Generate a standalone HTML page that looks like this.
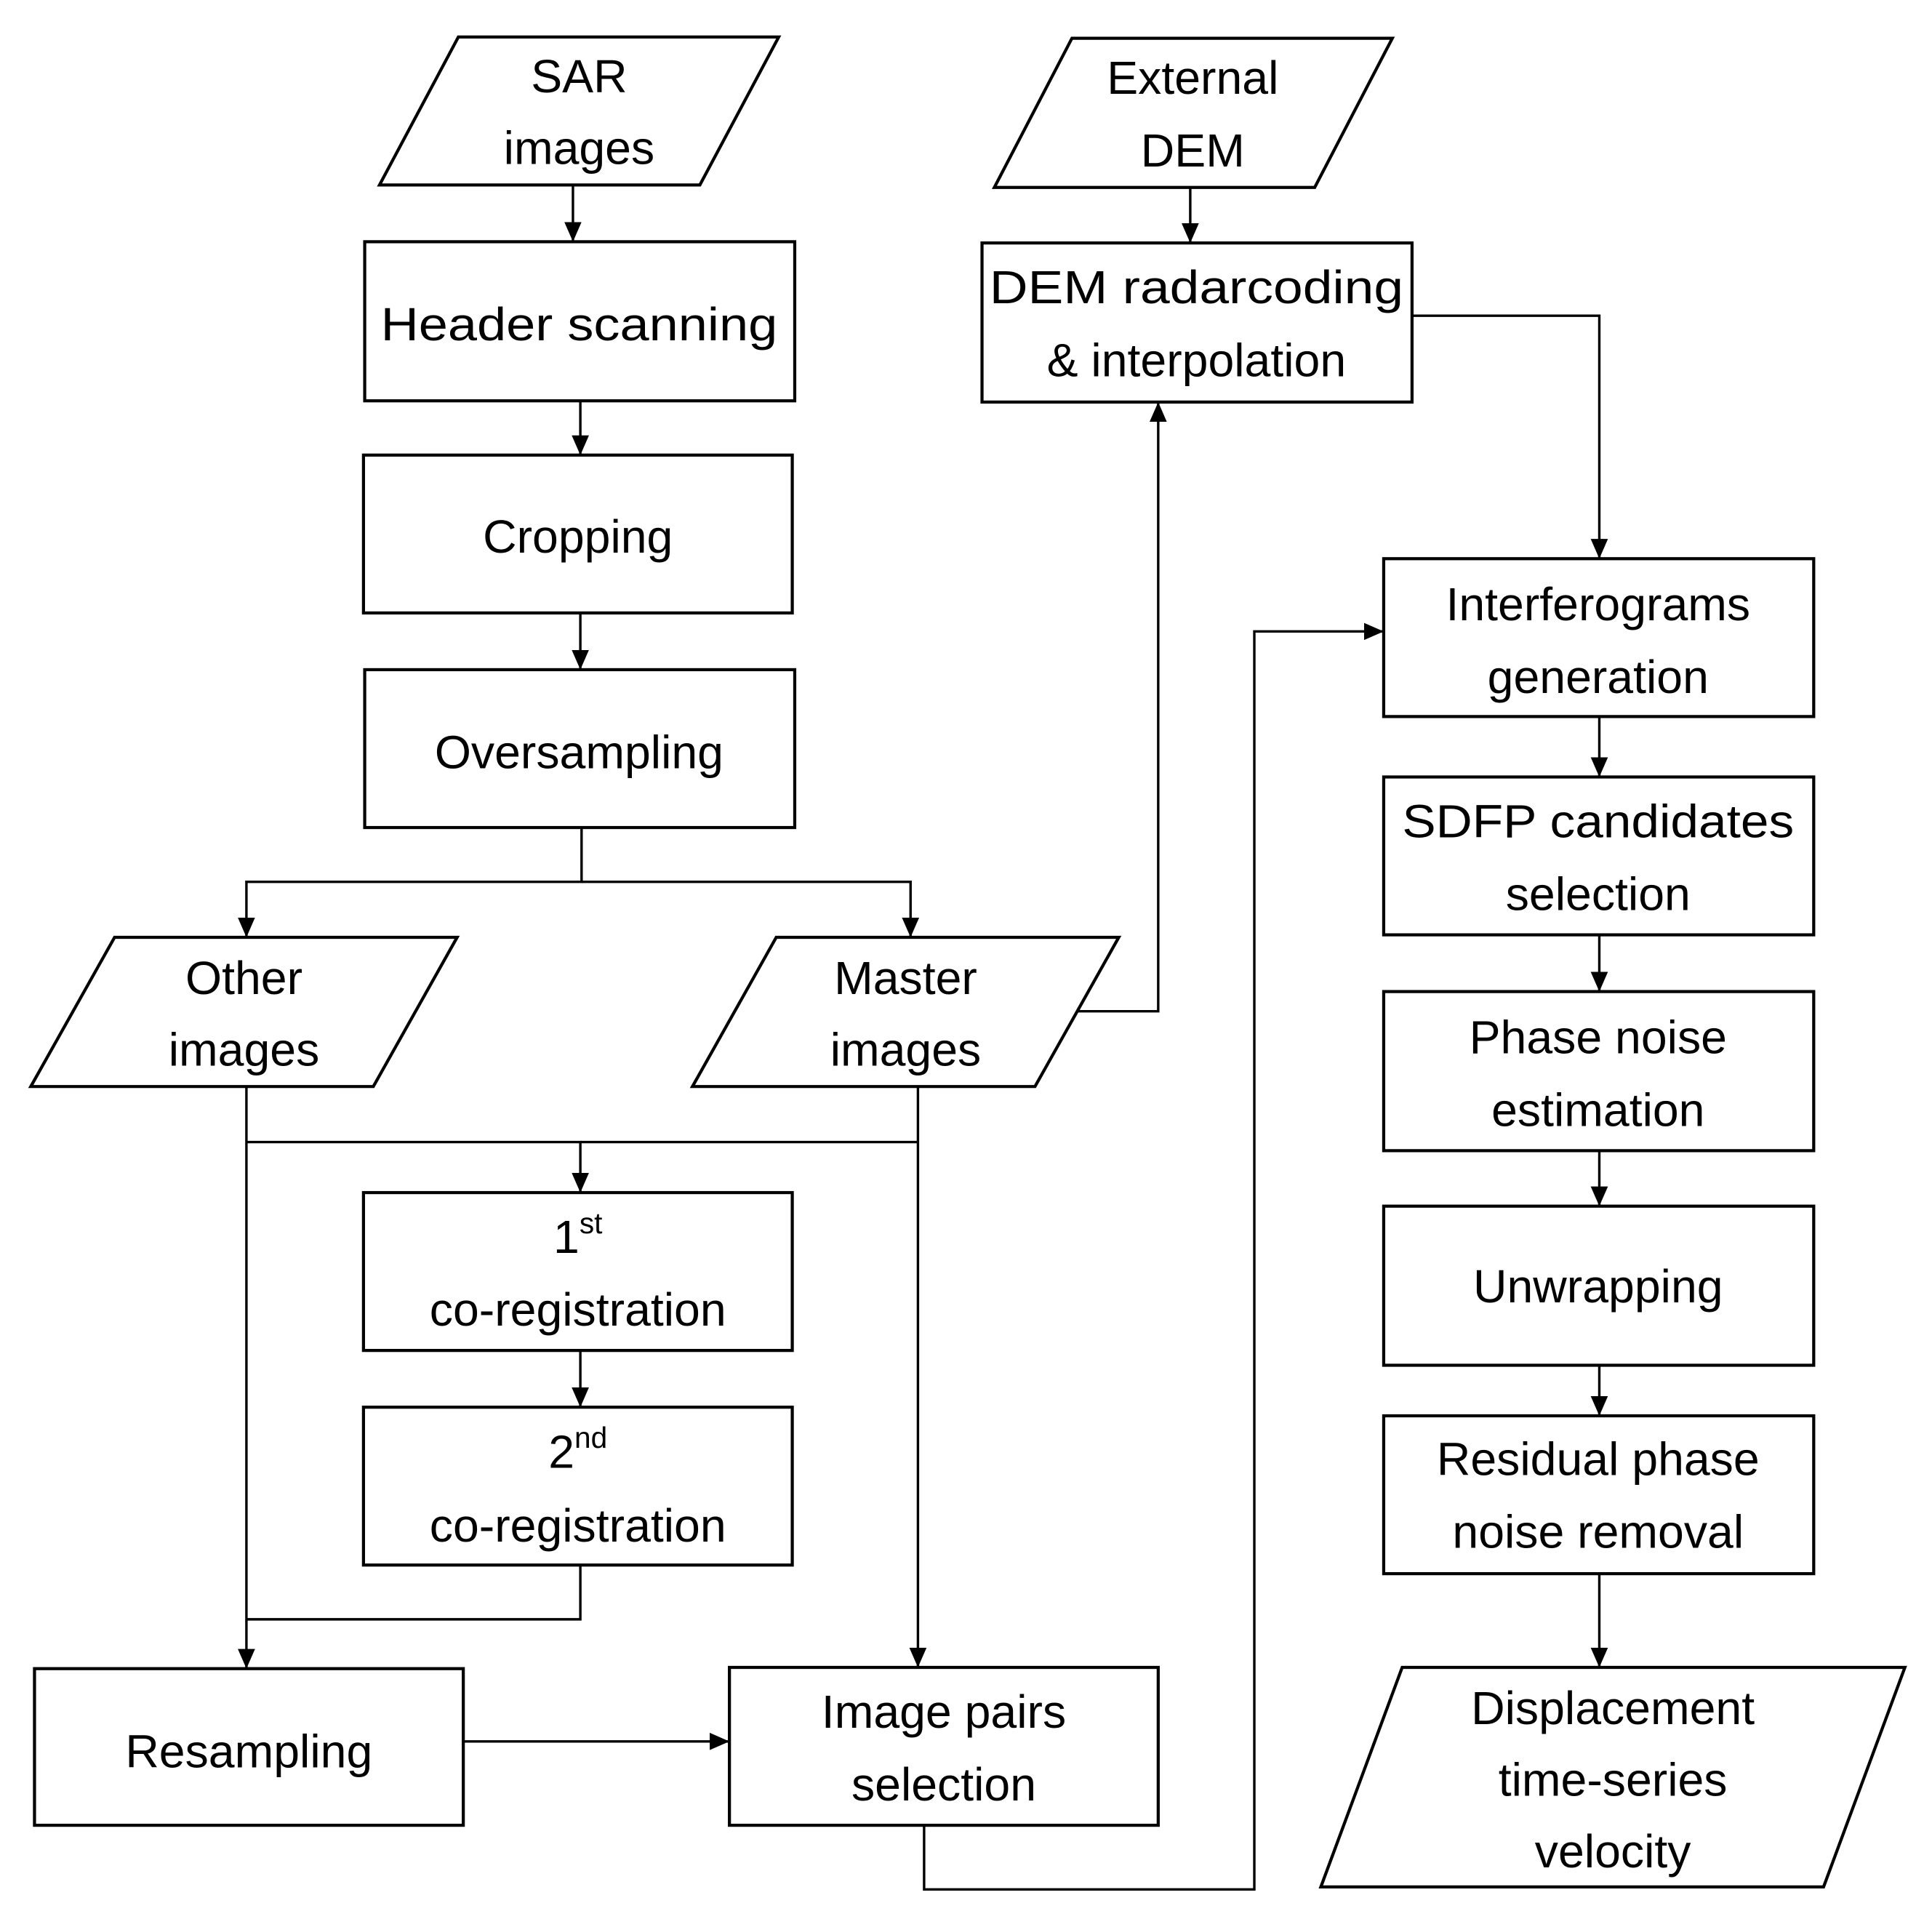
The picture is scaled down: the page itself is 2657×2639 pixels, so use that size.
<!DOCTYPE html>
<html><head><meta charset="utf-8"><style>html,body{margin:0;padding:0;background:#fff}svg{display:block}</style></head>
<body>
<svg xmlns="http://www.w3.org/2000/svg" width="2657" height="2639" viewBox="0 0 1568 1556" preserveAspectRatio="none">
<defs><marker id="a" markerWidth="16" markerHeight="14" refX="15" refY="7" orient="auto" markerUnits="userSpaceOnUse"><path d="M0,0 L16,7 L0,14 z" fill="#000"/></marker></defs>
<g fill="none" stroke="#000" stroke-width="2.5">
<polygon points="372,30 632,30 568,150 308,150"/>
<polygon points="870,31 1130,31 1067,152 807,152"/>
<polygon points="93,760 371,760 303,881 25,881"/>
<polygon points="630,760 908,760 840,881 562,881"/>
<polygon points="1138,1352 1546,1352 1480,1530 1072,1530"/>
<rect x="296" y="196" width="349" height="129"/>
<rect x="295" y="369" width="348" height="128"/>
<rect x="296" y="543" width="349" height="128"/>
<rect x="797" y="197" width="349" height="129"/>
<rect x="1123" y="453" width="349" height="128"/>
<rect x="1123" y="630" width="349" height="128"/>
<rect x="1123" y="804" width="349" height="129"/>
<rect x="1123" y="978" width="349" height="129"/>
<rect x="1123" y="1148" width="349" height="128"/>
<rect x="295" y="967" width="348" height="128"/>
<rect x="295" y="1141" width="348" height="128"/>
<rect x="28" y="1353" width="348" height="127"/>
<rect x="592" y="1352" width="348" height="128"/>
</g>
<g fill="none" stroke="#000" stroke-width="2" marker-end="url(#a)">
<line x1="465" y1="150" x2="465" y2="195"/>
<line x1="471" y1="325" x2="471" y2="368"/>
<line x1="471" y1="497" x2="471" y2="542"/>
<polyline points="472,671 472,715 200,715 200,759"/>
<polyline points="472,715 739,715 739,759"/>
<polyline points="875,820 940,820 940,327"/>
<line x1="966" y1="152" x2="966" y2="196"/>
<polyline points="1146,256 1298,256 1298,452"/>
<line x1="1298" y1="581" x2="1298" y2="629"/>
<line x1="1298" y1="758" x2="1298" y2="803"/>
<line x1="1298" y1="933" x2="1298" y2="977"/>
<line x1="1298" y1="1107" x2="1298" y2="1147"/>
<line x1="1298" y1="1276" x2="1298" y2="1351"/>
<line x1="200" y1="881" x2="200" y2="1352"/>
<line x1="745" y1="881" x2="745" y2="1351"/>
<polyline points="200,926 471,926 471,966"/>
<line x1="471" y1="926" x2="745" y2="926" marker-end="none"/>
<line x1="471" y1="1095" x2="471" y2="1140"/>
<polyline points="471,1269 471,1313 200,1313" marker-end="none"/>
<line x1="376" y1="1412" x2="591" y2="1412"/>
<polyline points="750,1480 750,1532 1018,1532 1018,512 1122,512"/>
</g>
<g font-family="Liberation Sans, sans-serif" font-size="38" text-anchor="middle" fill="#000">
<text x="470" y="75">SAR</text><text x="470" y="133">images</text>
<text x="968" y="76">External</text><text x="968" y="135">DEM</text>
<text x="470" y="276" textLength="322" lengthAdjust="spacingAndGlyphs">Header scanning</text>
<text x="469" y="448">Cropping</text>
<text x="470" y="623">Oversampling</text>
<text x="971" y="246" textLength="336" lengthAdjust="spacingAndGlyphs">DEM radarcoding</text>
<text x="971" y="305">&amp; interpolation</text>
<text x="1297" y="503">Interferograms</text><text x="1297" y="562">generation</text>
<text x="1297" y="679" textLength="318" lengthAdjust="spacingAndGlyphs">SDFP candidates</text><text x="1297" y="738">selection</text>
<text x="1297" y="854">Phase noise</text><text x="1297" y="913">estimation</text>
<text x="1297" y="1056">Unwrapping</text>
<text x="1297" y="1196">Residual phase</text><text x="1297" y="1255">noise removal</text>
<text x="1309" y="1398">Displacement</text><text x="1309" y="1456">time-series</text><text x="1309" y="1514">velocity</text>
<text x="198" y="806">Other</text><text x="198" y="864">images</text>
<text x="735" y="806">Master</text><text x="735" y="864">images</text>
<text x="469" y="1016">1<tspan font-size="24" dy="-16">st</tspan></text><text x="469" y="1075">co-registration</text>
<text x="469" y="1190">2<tspan font-size="24" dy="-16">nd</tspan></text><text x="469" y="1250">co-registration</text>
<text x="202" y="1433">Resampling</text>
<text x="766" y="1401">Image pairs</text><text x="766" y="1460">selection</text>
</g>
</svg>
</body></html>
